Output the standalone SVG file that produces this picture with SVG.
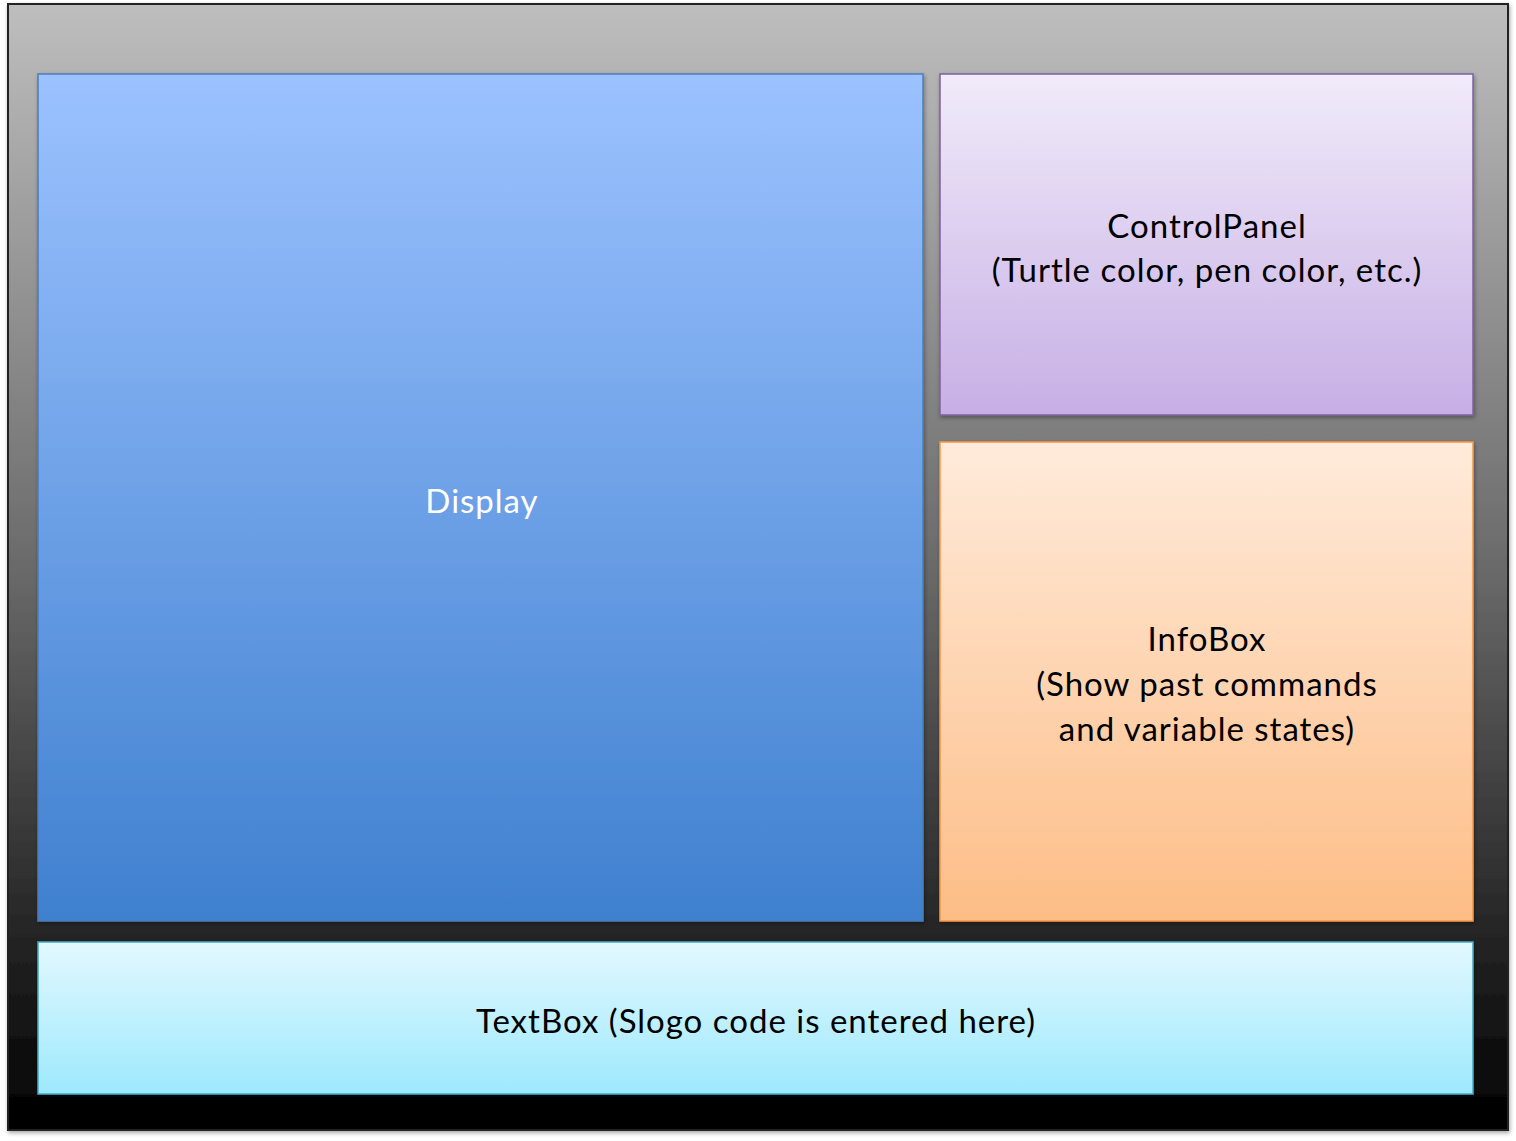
<svg xmlns="http://www.w3.org/2000/svg" width="1516" height="1141" viewBox="0 0 1516 1141">
<defs>
<linearGradient id="gOuter" x1="0" y1="0" x2="0" y2="1"><stop offset="0" stop-color="#bebebe"/><stop offset="0.5" stop-color="#6a6a6a"/><stop offset="1" stop-color="#000"/></linearGradient>
<linearGradient id="gDisplay" x1="0" y1="0" x2="0" y2="1"><stop offset="0" stop-color="#9cc2ff"/><stop offset="1" stop-color="#3f80cf"/></linearGradient>
<linearGradient id="gCP" x1="0" y1="0" x2="0" y2="1"><stop offset="0" stop-color="#f1ebfa"/><stop offset="1" stop-color="#c7afe5"/></linearGradient>
<linearGradient id="gInfo" x1="0" y1="0" x2="0" y2="1"><stop offset="0" stop-color="#ffebdb"/><stop offset="1" stop-color="#fdbd86"/></linearGradient>
<linearGradient id="gText" x1="0" y1="0" x2="0" y2="1"><stop offset="0" stop-color="#e3f8ff"/><stop offset="1" stop-color="#9de9fd"/></linearGradient>
<filter id="sh" x="-5%" y="-5%" width="110%" height="110%"><feDropShadow dx="1" dy="2" stdDeviation="2" flood-color="#000" flood-opacity="0.35"/></filter>
</defs>
<style>
text{font-family:"Lato","Open Sans","Liberation Sans",sans-serif;font-size:33px;letter-spacing:1px;text-anchor:middle;fill:#000}
.w{fill:#fff}
</style>
<g id="window">
<rect x="8" y="4" width="1500" height="1126" fill="url(#gOuter)" stroke="#222" stroke-width="2" filter="url(#sh)"/>
</g>
<g id="display">
<rect x="38" y="74" width="885" height="847" fill="url(#gDisplay)" stroke="#4a7ebb" stroke-width="1.5" filter="url(#sh)"/>
<text class="w" x="482" y="513">Display</text>
</g>
<g id="controlpanel">
<rect x="940" y="74" width="533" height="341" fill="url(#gCP)" stroke="#7d60a0" stroke-width="1.5" filter="url(#sh)"/>
<text x="1207" y="238">ControlPanel</text>
<text x="1207" y="282">(Turtle color, pen color, etc.)</text>
</g>
<g id="infobox">
<rect x="940" y="442" width="533" height="479" fill="url(#gInfo)" stroke="#f79646" stroke-width="1.5" filter="url(#sh)"/>
<text x="1207" y="651">InfoBox</text>
<text x="1207" y="696">(Show past commands</text>
<text x="1207" y="741">and variable states)</text>
</g>
<g id="textbox">
<rect x="38" y="942" width="1435" height="152" fill="url(#gText)" stroke="#46aac5" stroke-width="1.5" filter="url(#sh)"/>
<text x="756" y="1033">TextBox (Slogo code is entered here)</text>
</g>
<g id="connectors"/>
</svg>
